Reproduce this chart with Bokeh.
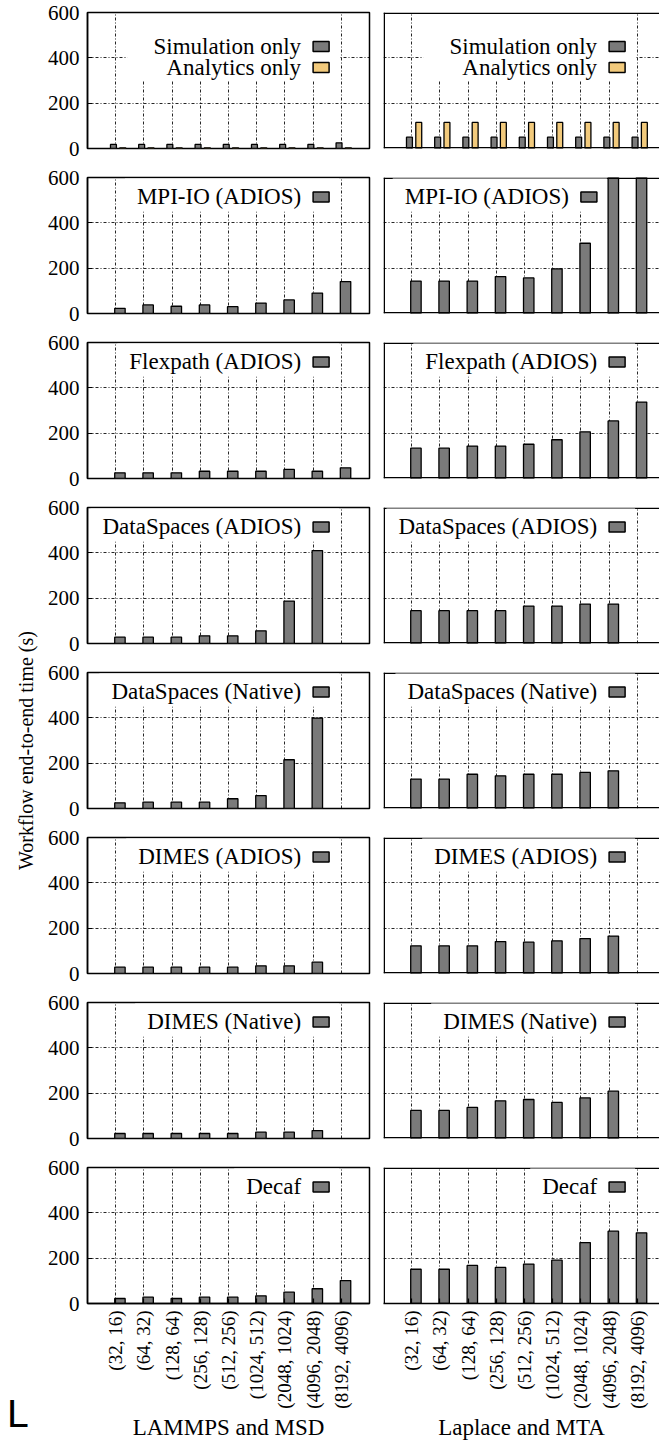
import math
from bokeh.plotting import figure
from bokeh.models import (Range1d, FixedTicker, Label, BoxAnnotation, Span,
                          ColumnDataSource)
from bokeh.layouts import row, column
from bokeh.embed import file_html
from bokeh.resources import INLINE

# ---------------- data ----------------
configs = ["(32, 16)", "(64, 32)", "(128, 64)", "(256, 128)", "(512, 256)",
           "(1024, 512)", "(2048, 1024)", "(4096, 2048)", "(8192, 4096)"]
y_ticks = [0, 200, 400, 600]
col_titles = ["LAMMPS and MSD", "Laplace and MTA"]
y_title = "Workflow end-to-end time (s)"

sim_only_lammps = [18, 18, 18, 18, 18, 18, 18, 18, 25]
ana_only_lammps = [3, 3, 3, 3, 3, 3, 3, 3, 3]
sim_only_laplace = [50, 50, 50, 50, 50, 50, 50, 50, 50]
ana_only_laplace = [115, 115, 115, 115, 115, 115, 115, 115, 115]

mpiio_lammps = [23, 38, 32, 38, 30, 46, 60, 90, 141]
mpiio_laplace = [143, 143, 143, 163, 157, 197, 310, 700, 800]
flexpath_lammps = [25, 25, 25, 32, 32, 32, 40, 32, 47]
flexpath_laplace = [134, 134, 143, 143, 151, 171, 206, 254, 337]
ds_adios_lammps = [28, 28, 28, 34, 34, 56, 187, 410, None]
ds_adios_laplace = [145, 145, 145, 145, 165, 165, 174, 174, None]
ds_native_lammps = [25, 28, 28, 28, 43, 57, 215, 399, None]
ds_native_laplace = [130, 130, 151, 144, 151, 151, 159, 166, None]
dimes_adios_lammps = [28, 28, 28, 28, 28, 34, 34, 50, None]
dimes_adios_laplace = [122, 122, 122, 141, 138, 144, 154, 165, None]
dimes_native_lammps = [22, 22, 22, 22, 22, 28, 28, 35, None]
dimes_native_laplace = [124, 124, 137, 166, 172, 159, 179, 209, None]
decaf_lammps = [22, 28, 22, 28, 28, 34, 50, 65, 101]
decaf_laplace = [151, 151, 168, 159, 174, 191, 269, 319, 312]

GRAY = "#7a7a7a"
YELLOW = "#f2ca7c"

# each row: list of (legend name, left values, right values, colour)
rows_spec = [
    [("Simulation only", sim_only_lammps, sim_only_laplace, GRAY),
     ("Analytics only", ana_only_lammps, ana_only_laplace, YELLOW)],
    [("MPI-IO (ADIOS)", mpiio_lammps, mpiio_laplace, GRAY)],
    [("Flexpath (ADIOS)", flexpath_lammps, flexpath_laplace, GRAY)],
    [("DataSpaces (ADIOS)", ds_adios_lammps, ds_adios_laplace, GRAY)],
    [("DataSpaces (Native)", ds_native_lammps, ds_native_laplace, GRAY)],
    [("DIMES (ADIOS)", dimes_adios_lammps, dimes_adios_laplace, GRAY)],
    [("DIMES (Native)", dimes_native_lammps, dimes_native_laplace, GRAY)],
    [("Decaf", decaf_lammps, decaf_laplace, GRAY)],
]

# ---------------- layout constants ----------------
PX_UNIT = 28.2          # pixels per category step
FRAME_H = 136
FULL_W = 282
Y_PER_PX = 600 / FRAME_H
SERIF = "Liberation Serif"
GRID_DASH = "3 2 1 2"
TOP_B, BOT_B = 12, 17
LAST_BOT_B = 1440 - 7 * (TOP_B + FRAME_H + BOT_B) - TOP_B - FRAME_H


def make_panel(r, is_left, entries):
    is_bottom = (r == len(rows_spec) - 1)
    frame_w = FULL_W if is_left else 276
    x0 = -1
    p = figure(frame_width=frame_w, frame_height=FRAME_H,
               x_range=Range1d(x0, x0 + frame_w / PX_UNIT), y_range=Range1d(0, 600),
               output_backend="svg", toolbar_location=None,
               min_border_left=47 if is_left else 7,
               min_border_right=7 if is_left else 0,
               min_border_top=TOP_B,
               min_border_bottom=LAST_BOT_B if is_bottom else BOT_B)
    p.background_fill_color = "white"
    p.border_fill_color = "white"

    xt = FixedTicker(ticks=list(range(len(configs))))
    yt = FixedTicker(ticks=y_ticks)

    # grid
    p.xgrid.ticker = xt
    p.ygrid.ticker = yt
    for g in (p.xgrid[0], p.ygrid[0]):
        g.grid_line_color = "black"
        g.grid_line_alpha = 0.85
        g.grid_line_width = 1
        g.grid_line_dash = GRID_DASH

    # bars
    n = len(entries)
    if n == 2:
        offsets, width = [-0.08, 0.25], 0.21
    else:
        offsets, width = [0.15], 0.37
    for k, (name, lv, rv, color) in enumerate(entries):
        vals = lv if is_left else rv
        xs, tops = [], []
        for i, v in enumerate(vals):
            if v is not None:
                xs.append(i + offsets[k])
                tops.append(v)
        src = ColumnDataSource(dict(x=xs, top=tops))
        p.vbar(x="x", top="top", bottom=0, width=width, source=src,
               fill_color=color, line_color="black", line_width=1.3)

    # x axis: only the bottom row carries labels
    ax = p.xaxis[0]
    if is_bottom:
        ax.ticker = xt
        ax.minor_tick_line_color = None
        ax.major_tick_in = 5
        ax.major_tick_out = 0
        ax.axis_line_width = 1.5
        ax.major_tick_line_width = 1.2
        ax.major_label_overrides = {i: c for i, c in enumerate(configs)}
        ax.major_label_orientation = math.pi / 2
        ax.major_label_text_font = SERIF
        ax.major_label_text_font_size = "19px"
        ax.major_label_text_color = "black"
        ax.major_label_standoff = 7
        ax.axis_label = col_titles[0 if is_left else 1]
        ax.axis_label_text_font = SERIF
        ax.axis_label_text_font_size = "23px"
        ax.axis_label_text_font_style = "normal"
        ax.axis_label_text_color = "black"
        ax.axis_label_standoff = 3
    else:
        ax.visible = False

    # y axis: only the left column carries labels
    ay = p.yaxis[0]
    if is_left:
        ay.ticker = yt
        ay.minor_tick_line_color = None
        ay.major_tick_in = 5
        ay.major_tick_out = 0
        ay.axis_line_width = 1.5
        ay.major_tick_line_width = 1.2
        ay.major_label_text_font = SERIF
        ay.major_label_text_font_size = "21px"
        ay.major_label_text_color = "black"
        ay.major_label_standoff = 8
        p.outline_line_color = "black"
        p.outline_line_width = 1.5
        p.outline_line_alpha = 1
    else:
        ay.visible = False
        # right column is cut by the page edge: border on left, top, bottom only
        p.outline_line_color = None
        hw_x = 0.75 / PX_UNIT
        hw_y = 0.75 * Y_PER_PX
        p.add_layout(Span(location=x0 + hw_x, dimension="height",
                          line_color="black", line_width=1.5))
        p.add_layout(Span(location=600 - hw_y, dimension="width",
                          line_color="black", line_width=1.5))
        if not is_bottom:
            p.add_layout(Span(location=hw_y, dimension="width",
                              line_color="black", line_width=1.5))

    # legend (text right-aligned, sample box to its right)
    anchor = 6 if (r == 1 and not is_left) else 7
    box_w = 16 / PX_UNIT
    text_gap = 12 / PX_UNIT
    if n == 2:
        ys = [450, 357]
        pads = [dict(left=26, right=38, top=20, bottom=0),
                dict(left=39, right=38, top=0, bottom=0)]
    else:
        ys = [514]
        pads = [dict(left=12, right=38, top=6, bottom=2)]
    # draw lower entries first so upper text is never covered by a lower background
    for k in reversed(range(n)):
        name = entries[k][0]
        yc = ys[k]
        pd = pads[k]
        lab = Label(x=anchor - text_gap + pd["right"] / PX_UNIT,
                    y=yc + (pd["top"] - pd["bottom"]) / 2 * Y_PER_PX,
                    text=name, text_align="right",
                    text_baseline="middle", text_font=SERIF, text_font_size="23px",
                    text_color="black", background_fill_color="white",
                    background_fill_alpha=1, padding=pd)
        p.add_layout(lab)
    for k, (name, lv, rv, color) in enumerate(entries):
        yc = ys[k]
        box = BoxAnnotation(left=anchor, right=anchor + box_w, bottom=yc - 22, top=yc + 22,
                            fill_color=color, fill_alpha=1, line_color="black",
                            line_alpha=1, line_width=1.5)
        p.add_layout(box)
    return p


# y-title strip on the far left
yfig = figure(width=40, height=1440, x_range=Range1d(0, 1), y_range=Range1d(0, 1),
              output_backend="svg", toolbar_location=None, min_border=0)
yfig.axis.visible = False
yfig.grid.visible = False
yfig.outline_line_color = None
yfig.add_layout(Label(x=25, y=690, x_units="screen", y_units="screen", text=y_title,
                      angle=math.pi / 2, text_align="center", text_baseline="middle",
                      text_font=SERIF, text_font_size="20px", text_color="black"))
yfig.add_layout(Label(x=6, y=27, x_units="screen", y_units="screen", text="L",
                      text_align="left", text_baseline="alphabetic",
                      text_font="DejaVu Sans", text_font_size="38px", text_color="black"))

grid_rows = []
for r, entries in enumerate(rows_spec):
    grid_rows.append(row(make_panel(r, True, entries), make_panel(r, False, entries)))

layout = row(yfig, column(*grid_rows))

open("out.html", "w").write(file_html(layout, INLINE))
